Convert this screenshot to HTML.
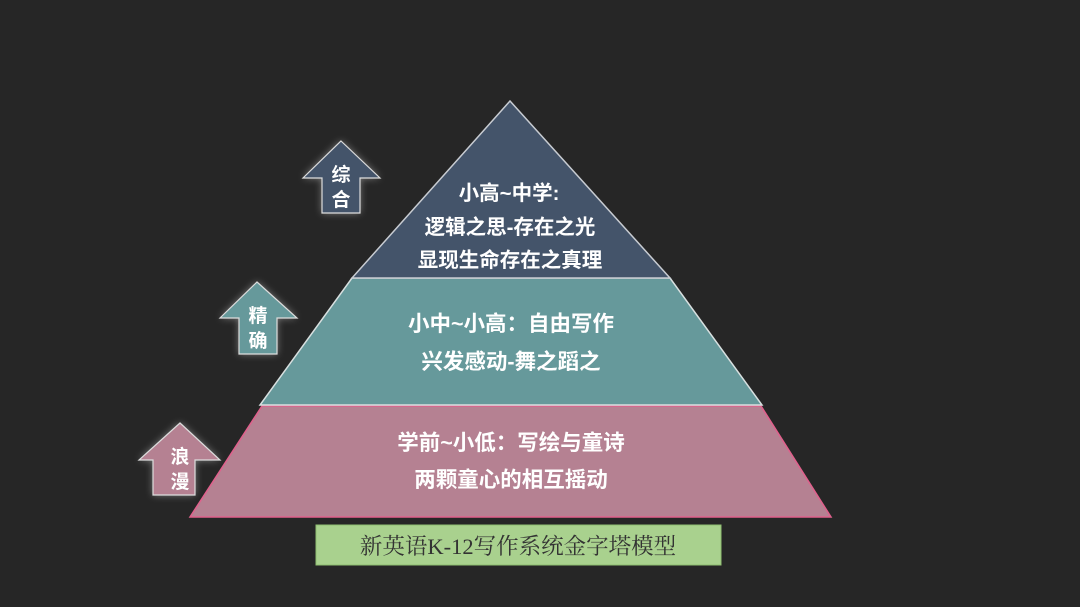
<!DOCTYPE html>
<html><head><meta charset="utf-8"><style>
body{margin:0;width:1080px;height:607px;background:#262626;overflow:hidden;}
svg{position:absolute;left:0;top:0}
text{font-family:"Liberation Sans","Noto Sans CJK SC",sans-serif;font-weight:bold;fill:#fff;text-anchor:middle}
</style></head><body>
<svg width="1080" height="607" viewBox="0 0 1080 607">
<defs><filter id="g" x="-50%" y="-50%" width="200%" height="200%"><feGaussianBlur stdDeviation="4"/></filter></defs>
<polygon points="190,517 831,517 761,406 262,406" fill="#b58192" stroke="#e0608c" stroke-width="1.5"/>
<polygon points="260,405 762,405 670,278 352,278" fill="#66999b" stroke="#d8e0e0" stroke-width="1.5"/>
<polygon points="510,101 670,278 352,278" fill="#44546a" stroke="#c8ccd2" stroke-width="1.5"/>
<g opacity="0.6" filter="url(#g)" fill="#bbb">
<polygon points="341,141 380,178 360,178 360,213 322,213 322,178 303,178"/>
<polygon points="257,282 297,318 277,318 277,354 239,354 239,318 220,318"/>
<polygon points="180,423 220,460 195,460 195,495 153,495 153,460 139,460"/>
</g>
<polygon points="341,141 380,178 360,178 360,213 322,213 322,178 303,178" fill="#44546a" stroke="#ddd" stroke-width="1.2"/>
<polygon points="257,282 297,318 277,318 277,354 239,354 239,318 220,318" fill="#66999b" stroke="#ddd" stroke-width="1.2"/>
<polygon points="180,423 220,460 195,460 195,495 153,495 153,460 139,460" fill="#b58192" stroke="#ddd" stroke-width="1.2"/>
<g font-size="19">
<text x="341" y="181">综</text><text x="341" y="206">合</text>
<text x="258" y="322">精</text><text x="258" y="347">确</text>
<text x="180" y="463">浪</text><text x="180" y="488">漫</text>
</g>
<g font-size="20.5">
<text x="509" y="200">小高~中学:</text>
<text x="510" y="234">逻辑之思-存在之光</text>
<text x="510" y="267">显现生命存在之真理</text>
</g>
<g font-size="21.5">
<text x="511" y="331">小中~小高：自由写作</text>
<text x="511" y="369">兴发感动-舞之蹈之</text>
<text x="511" y="450">学前~小低：写绘与童诗</text>
<text x="511" y="487">两颗童心的相互摇动</text>
</g>
<rect x="316" y="525" width="405" height="40" fill="#a9d18e" stroke="#8fbf70"/>
<text x="518" y="554" font-size="22.5" style="font-family:'Liberation Serif','Noto Serif CJK SC',serif;font-weight:normal;fill:#333">新英语K-12写作系统金字塔模型</text>
</svg>
</body></html>
